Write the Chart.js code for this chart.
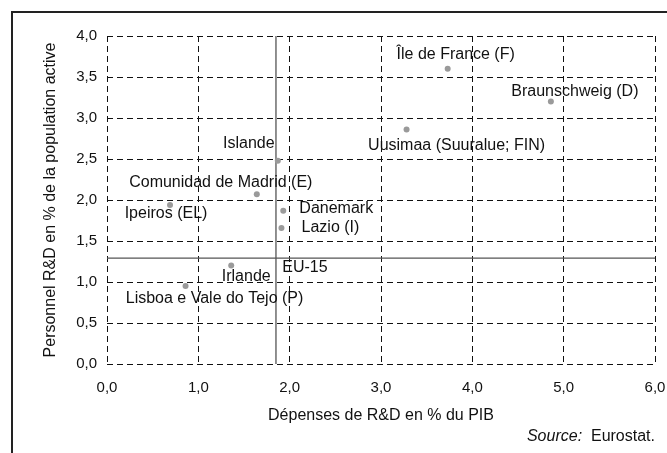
<!DOCTYPE html>
<html>
<head>
<meta charset="utf-8">
<script src="https://cdn.jsdelivr.net/npm/chart.js@4/dist/chart.umd.min.js"></script>
<style>
  html, body { margin: 0; padding: 0; background: #fff; }
  #chart { display: block; }
</style>
</head>
<body>
<canvas id="chart" width="667" height="453"></canvas>
<script>
// Regions: R&D spending (% of GDP) vs R&D personnel (% of labour force)
const regions = [
  'Île de France (F)', 'Braunschweig (D)', 'Uusimaa (Suuralue; FIN)', 'Islande',
  'Comunidad de Madrid (E)', 'Ipeiros (EL)', 'Danemark', 'Lazio (I)',
  'Irlande', 'Lisboa e Vale do Tejo (P)'
];
const rdSpending  = [3.73, 4.86, 3.28, 1.87, 1.64, 0.69, 1.93, 1.91, 1.36, 0.86];
const rdPersonnel = [3.60, 3.20, 2.86, 2.48, 2.07, 1.94, 1.87, 1.66, 1.20, 0.95];

// EU-15 average, drawn as cross lines
const euLabel = 'EU-15';
const euSpending = 1.85;
const euPersonnel = 1.29;

const xTicks = [0, 1, 2, 3, 4, 5, 6];
const yTicks = [0, 0.5, 1, 1.5, 2, 2.5, 3, 3.5, 4];

// label placement relative to each dot (px, text centre)
const labelShift = [
  [8, -14], [24, -10], [50, 16], [-29, -17], [-36, -12],
  [-4, 9], [53, -2], [49, 0], [15, 11], [29, 12]
];

const FONT = "'Liberation Sans', Arial, sans-serif";
const comma = v => Number(v).toFixed(1).replace('.', ',');

const euLines = {
  id: 'euLines',
  beforeDatasetsDraw(chart) {
    const { ctx, scales: { x, y } } = chart;
    const px = x.getPixelForValue(euSpending);
    const py = y.getPixelForValue(euPersonnel);
    ctx.save();
    ctx.strokeStyle = '#555';
    ctx.lineWidth = 1.3;
    ctx.beginPath();
    ctx.moveTo(px, y.getPixelForValue(0));
    ctx.lineTo(px, y.getPixelForValue(4));
    ctx.moveTo(x.getPixelForValue(0), py);
    ctx.lineTo(x.getPixelForValue(6), py);
    ctx.stroke();
    ctx.restore();
  }
};

const pointLabels = {
  id: 'pointLabels',
  afterDatasetsDraw(chart) {
    const { ctx, scales: { x, y } } = chart;
    ctx.save();
    ctx.font = '16px ' + FONT;
    ctx.fillStyle = '#111';
    ctx.textAlign = 'center';
    ctx.textBaseline = 'middle';
    regions.forEach((name, i) => {
      const px = x.getPixelForValue(rdSpending[i]);
      const py = y.getPixelForValue(rdPersonnel[i]);
      ctx.fillText(name, px + labelShift[i][0], py + labelShift[i][1]);
    });
    ctx.fillText(euLabel, x.getPixelForValue(euSpending) + 29,
                 y.getPixelForValue(euPersonnel) + 9);
    ctx.restore();
  }
};

const frame = {
  id: 'frame',
  afterDraw(chart) {
    const { ctx } = chart;
    ctx.save();
    // outer frame (left and top visible)
    ctx.strokeStyle = '#222';
    ctx.lineWidth = 2;
    ctx.strokeRect(12, 12, 800, 600);
    // source note
    ctx.fillStyle = '#111';
    ctx.textBaseline = 'middle';
    ctx.textAlign = 'right';
    ctx.font = '16px ' + FONT;
    const right = 655, yy = 437;
    const tail = '  Eurostat.';
    ctx.fillText(tail, right, yy);
    const w = ctx.measureText(tail).width;
    ctx.font = 'italic 16px ' + FONT;
    ctx.fillText('Source:', right - w, yy);
    ctx.restore();
  }
};

new Chart(document.getElementById('chart'), {
  type: 'scatter',
  data: {
    datasets: [{
      label: 'Régions',
      data: rdSpending.map((v, i) => ({ x: v, y: rdPersonnel[i] })),
      pointRadius: 3,
      pointHoverRadius: 3,
      pointBackgroundColor: '#9a9a9a',
      pointBorderWidth: 0,
    }]
  },
  options: {
    responsive: false,
    animation: false,
    devicePixelRatio: 1,
    layout: { padding: { top: 36, right: 0, left: 0, bottom: 0 } },
    plugins: {
      legend: { display: false },
      tooltip: { enabled: false },
    },
    scales: {
      x: {
        type: 'linear',
        min: 0, max: 6,
        afterBuildTicks: s => { s.ticks = xTicks.map(v => ({ value: v })); },
        afterFit: s => { s.height = 89; s.paddingRight = 12; s.paddingLeft = 0; },
        ticks: { color: '#111', font: { family: FONT, size: 15 }, padding: 15, callback: comma },
        grid: { color: '#111', lineWidth: 1, drawTicks: false },
        border: { display: false, dash: [6, 4] },
        title: {
          display: true,
          text: 'Dépenses de R&D en % du PIB',
          color: '#111',
          font: { family: FONT, size: 16 },
          padding: { top: 0, bottom: 28 }
        }
      },
      y: {
        type: 'linear',
        min: 0, max: 4,
        afterBuildTicks: s => { s.ticks = yTicks.map(v => ({ value: v })); },
        afterFit: s => { s.width = 107; },
        ticks: { color: '#111', font: { family: FONT, size: 15 }, padding: 10, callback: comma },
        grid: { color: '#111', lineWidth: 1, drawTicks: false },
        border: { display: false, dash: [6, 4] },
        title: {
          display: true,
          text: 'Personnel R&D en % de la population active',
          color: '#111',
          font: { family: FONT, size: 16 },
          padding: { top: 41, bottom: 0 }
        }
      }
    }
  },
  plugins: [euLines, pointLabels, frame]
});
</script>
</body>
</html>
